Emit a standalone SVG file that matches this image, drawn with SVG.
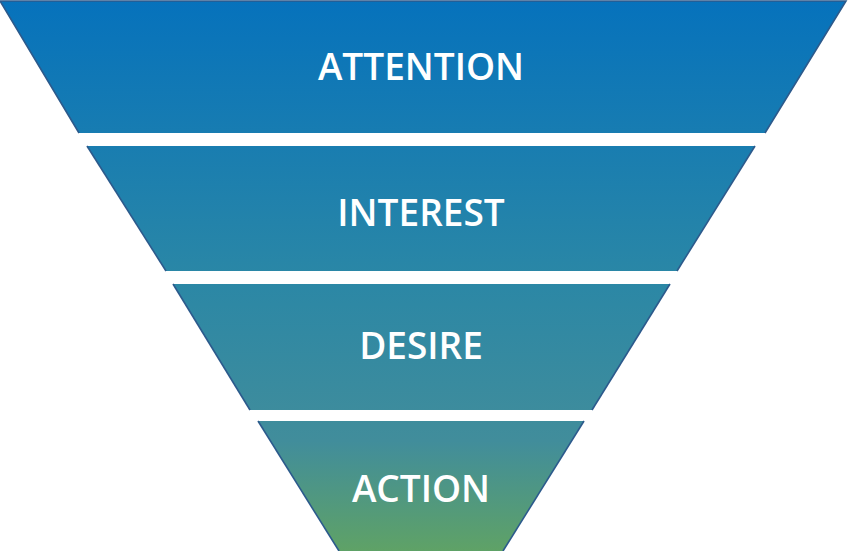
<svg xmlns="http://www.w3.org/2000/svg" width="856" height="551" viewBox="0 0 856 551">
<defs>
<linearGradient id="g" gradientUnits="userSpaceOnUse" x1="0" y1="0" x2="0" y2="551">
<stop offset="0" stop-color="#0672BC"/>
<stop offset="0.5" stop-color="#2A87A6"/>
<stop offset="0.8" stop-color="#418D9B"/>
<stop offset="1" stop-color="#5FA266"/>
</linearGradient>
</defs>
<style>
.seg{fill:url(#g);stroke:none}
.edge{stroke:#2C5A8C;stroke-width:1.6;fill:none}
.lbl{font-family:"Open Sans","Noto Sans",sans-serif;font-weight:600;font-size:37px;fill:#FFFFFF;text-anchor:middle}
</style>
<g id="attention">
<polygon class="seg" points="0,1 846,1 765,133 79,133"/>
<polyline class="edge" points="79,133 0,1 846,1 765,133"/>
<text class="lbl" x="421" y="80">ATTENTION</text>
</g>
<g id="interest">
<polygon class="seg" points="87,146 755,146 677,271 166,271"/>
<line class="edge" x1="87" y1="146" x2="166" y2="271"/>
<line class="edge" x1="755" y1="146" x2="677" y2="271"/>
<text class="lbl" x="421" y="226">INTEREST</text>
</g>
<g id="desire">
<polygon class="seg" points="173,284 670,284 592,410 250,410"/>
<line class="edge" x1="173" y1="284" x2="250" y2="410"/>
<line class="edge" x1="670" y1="284" x2="592" y2="410"/>
<text class="lbl" x="421" y="359">DESIRE</text>
</g>
<g id="action">
<polygon class="seg" points="258,421 584,421 503,551 339,551"/>
<line class="edge" x1="258" y1="421" x2="339" y2="551"/>
<line class="edge" x1="584" y1="421" x2="503" y2="551"/>
<text class="lbl" x="421" y="502">ACTION</text>
</g>
<g id="connectors"></g>
</svg>
